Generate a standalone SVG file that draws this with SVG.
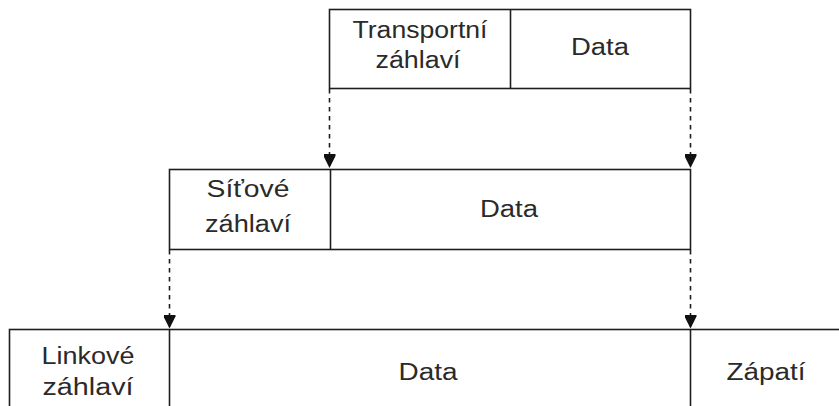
<svg xmlns="http://www.w3.org/2000/svg" width="839" height="406" viewBox="0 0 839 406">
<defs>
<style>
.box{fill:#fff;stroke:#1e1e1e;stroke-width:1.6}
.div{stroke:#1e1e1e;stroke-width:1.6;fill:none}
.dash{stroke:#1e1e1e;stroke-width:1.6;stroke-dasharray:4.5 4.5;fill:none}
text{font-family:"Liberation Sans",Arial,sans-serif;font-size:23px;fill:#2a2a2a;text-anchor:middle}
</style>
<marker id="ah" markerUnits="userSpaceOnUse" viewBox="0 -6 14 12" markerWidth="14" markerHeight="12" refX="14" refY="0" orient="auto">
<path d="M0,-6 L2,-6 L14,0 L2,6 L0,6 Z" fill="#111"/>
</marker>
</defs>
<rect width="839" height="406" fill="#fff"/>
<g id="transport">
<rect class="box" x="329.5" y="9.5" width="361" height="79"/>
<line class="div" x1="510.5" y1="9.5" x2="510.5" y2="88.5"/>
<text x="420" y="37.5" textLength="135" lengthAdjust="spacingAndGlyphs">Transportní</text>
<text x="418" y="67.5" textLength="85" lengthAdjust="spacingAndGlyphs">záhlaví</text>
<text x="600" y="54.5" textLength="58" lengthAdjust="spacingAndGlyphs">Data</text>
</g>
<g id="network">
<rect class="box" x="169.5" y="169.5" width="521" height="80"/>
<line class="div" x1="330.5" y1="169.5" x2="330.5" y2="249.5"/>
<text x="248" y="197" textLength="83" lengthAdjust="spacingAndGlyphs">Síťové</text>
<text x="248" y="232" textLength="86" lengthAdjust="spacingAndGlyphs">záhlaví</text>
<text x="509" y="216.5" textLength="58" lengthAdjust="spacingAndGlyphs">Data</text>
</g>
<g id="link">
<rect class="box" x="9.5" y="329.5" width="900" height="120"/>
<line class="div" x1="169.5" y1="329.5" x2="169.5" y2="406"/>
<line class="div" x1="690.5" y1="329.5" x2="690.5" y2="406"/>
<text x="88" y="363.5" textLength="93" lengthAdjust="spacingAndGlyphs">Linkové</text>
<text x="88" y="394.5" textLength="91" lengthAdjust="spacingAndGlyphs">záhlaví</text>
<text x="428" y="379.5" textLength="59" lengthAdjust="spacingAndGlyphs">Data</text>
<text x="766" y="379.5" textLength="79" lengthAdjust="spacingAndGlyphs">Zápatí</text>
</g>
<g id="connectors">
<line class="dash" x1="329.5" y1="89" x2="329.5" y2="168" marker-end="url(#ah)"/>
<line class="dash" x1="690.5" y1="89" x2="690.5" y2="168" marker-end="url(#ah)"/>
<line class="dash" x1="169.5" y1="250" x2="169.5" y2="328.5" marker-end="url(#ah)"/>
<line class="dash" x1="690.5" y1="250" x2="690.5" y2="328.5" marker-end="url(#ah)"/>
</g>
</svg>
